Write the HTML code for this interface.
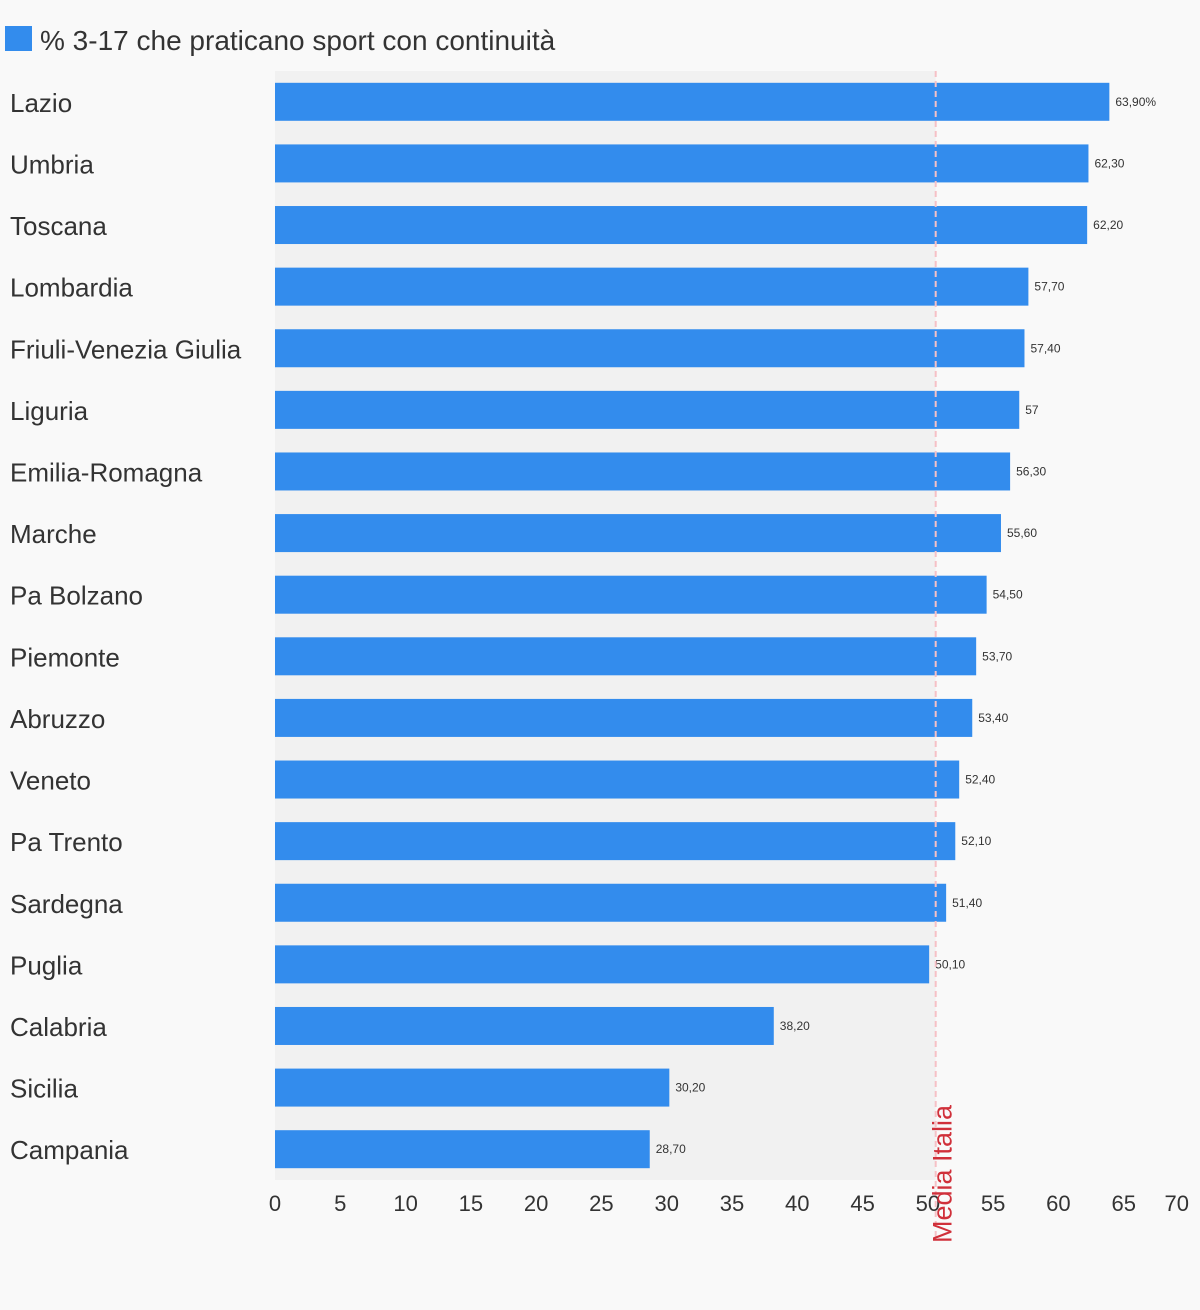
<!DOCTYPE html>
<html><head><meta charset="utf-8"><style>
body{margin:0;background:#f9f9f9;}
svg{display:block;font-family:"Liberation Sans",sans-serif;}
</style></head><body>
<svg id="chart" width="1200" height="1310">
<rect width="1200" height="1310" fill="#f9f9f9"/>
<g>
<rect x="5" y="26" width="27" height="25" fill="#338ced"/>
<text x="40" y="50" font-size="28" fill="#333">% 3-17 che praticano sport con continuità</text>
</g>
<g id="plot"></g>
</svg>
<script>
const regions=["Lazio","Umbria","Toscana","Lombardia","Friuli-Venezia Giulia","Liguria","Emilia-Romagna","Marche","Pa Bolzano","Piemonte","Abruzzo","Veneto","Pa Trento","Sardegna","Puglia","Calabria","Sicilia","Campania"];
const values=[63.9,62.3,62.2,57.7,57.4,57,56.3,55.6,54.5,53.7,53.4,52.4,52.1,51.4,50.1,38.2,30.2,28.7];
const valueLabels=["63,90%","62,30","62,20","57,70","57,40","57","56,30","55,60","54,50","53,70","53,40","52,40","52,10","51,40","50,10","38,20","30,20","28,70"];
const ticks=[0,5,10,15,20,25,30,35,40,45,50,55,60,65,70];
const mediaItalia=50.6;
const NS="http://www.w3.org/2000/svg";
const x0=275,x1=1189,yTop=71,yBottom=1180,xmax=70;
const xs=v=>x0+(v/xmax)*(x1-x0);
const step=(yBottom-yTop)/regions.length;
const yc=i=>yTop+step*(i+0.5);
const g=document.getElementById('plot');
function mk(t,a){const e=document.createElementNS(NS,t);for(const k in a)e.setAttribute(k,a[k]);g.appendChild(e);return e;}
const bg=mk('rect',{x:x0,y:yTop,width:xs(mediaItalia)-x0,height:yBottom-yTop,fill:'#f1f1f1'});


const bh=38;
regions.forEach((r,i)=>{
 const c=yc(i);
 const lab=mk('text',{x:10,y:c+10,'font-size':26,fill:'#333'});lab.textContent=r;
 
 
 const b=mk('rect',{x:x0,y:c-bh/2,width:xs(values[i])-x0,height:bh,fill:'#338ced'});
 
 
 const vl=mk('text',{x:xs(values[i])+6,y:c+4,'font-size':12,fill:'#333'});vl.textContent=valueLabels[i];
 
 
});
const ln=mk('line',{x1:xs(mediaItalia),x2:xs(mediaItalia),y1:yTop,y2:1240,stroke:'#f6c1c6','stroke-width':2,'stroke-dasharray':'6,4'});


ticks.forEach((t,i)=>{
 const last=i===ticks.length-1;
 const tl=mk('text',{x:xs(t),y:1211,'font-size':22,fill:'#333','text-anchor':last?'end':'middle'});tl.textContent=t;
 
 
});
const mt=mk('text',{x:0,y:0,'font-size':27,fill:'#d0303a',transform:`translate(${xs(mediaItalia)+16},1243) rotate(-90)`});
mt.textContent='Media Italia';


</script>
</body></html>
